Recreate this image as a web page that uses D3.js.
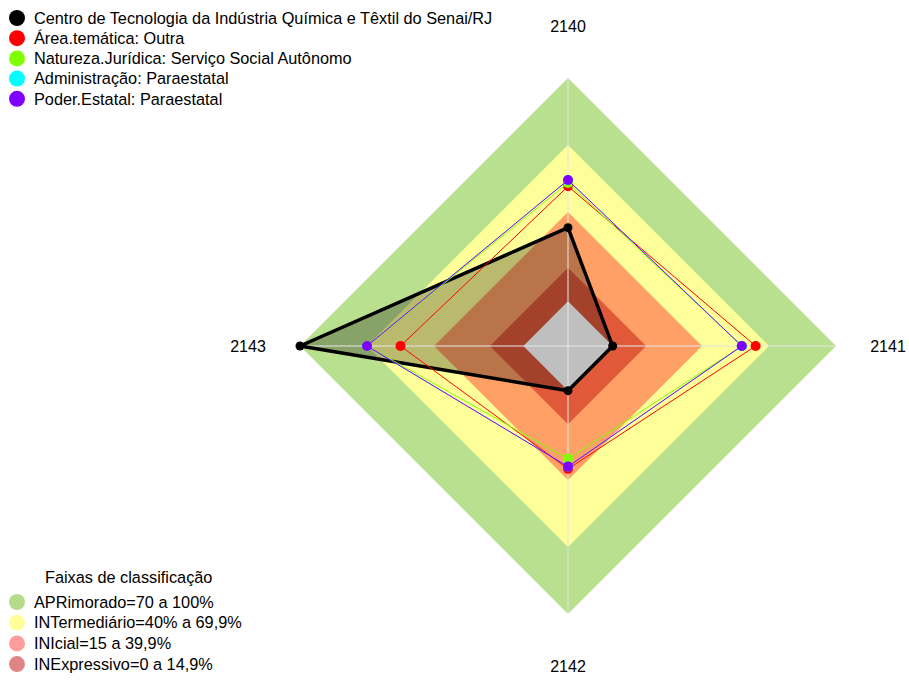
<!DOCTYPE html>
<html>
<head>
<meta charset="utf-8">
<script src="https://cdn.jsdelivr.net/npm/d3@7"></script>
<style>
  body { margin: 0; background: #fff; }
  svg { font-family: "Liberation Sans", Arial, sans-serif; }
</style>
</head>
<body>
<svg class="radar" width="909" height="680"></svg>
<script>
var axesLabels = ["2140", "2141", "2142", "2143"];

var seriesNames = [
  "Centro de Tecnologia da Indústria Química e Têxtil do Senai/RJ",
  "Área.temática: Outra",
  "Natureza.Jurídica: Serviço Social Autônomo",
  "Administração: Paraestatal",
  "Poder.Estatal: Paraestatal"
];
var seriesColors = ["#000000", "#ff0000", "#80ff00", "#00ffff", "#8000ff"];

var centroValues = [33, 0, 0, 100];
var areaValues = [51.5, 64, 35, 55];
var naturezaValues = [53, 58, 30.5, 70];
var adminValues = [54.3, 57.8, 34, 70];
var poderValues = [54.3, 57.8, 34, 70];
var allValues = [centroValues, areaValues, naturezaValues, adminValues, poderValues];

var bandNames = ["APRimorado=70 a 100%", "INTermediário=40% a 69,9%", "INIcial=15 a 39,9%", "INExpressivo=0 a 14,9%"];
var bandLimits = [100, 70, 40, 15];
var bandFills = ["#b9e08f", "#ffff99", "#ffa066", "#e05a3a"];
var bandLegendFills = ["#b5dc8a", "#ffff99", "#ff9d9d", "#e08585"];
var centerFill = "#bfbfbf";

var svg = d3.select("svg.radar"),
    cx = 568, cy = 346, radius = 268;

var r = d3.scaleLinear().domain([-20, 100]).range([0, radius]);
var angle = d3.scalePoint().domain(d3.range(axesLabels.length)).range([0, 2 * Math.PI * (axesLabels.length - 1) / axesLabels.length]);

function pt(i, v) {
  var a = angle(i) - Math.PI / 2;
  return [cx + r(v) * Math.cos(a), cy + r(v) * Math.sin(a)];
}
function ring(v) {
  return lineRadial(axesLabels.map(function(_, i) { return pt(i, v); }));
}

var lineRadial = d3.line().curve(d3.curveLinearClosed);

// background bands
var g = svg.append("g");
g.selectAll(".band")
  .data(bandLimits)
  .enter().append("path")
    .attr("class", "band")
    .attr("d", ring)
    .attr("fill", function(v, i) { return bandFills[i]; });

// fill of the main series, under the grey centre
allValues.forEach(function(vals, s) {
  if (s !== 0) return;
  svg.append("path")
    .attr("d", lineRadial(vals.map(function(v, i) { return pt(i, v); })))
    .attr("fill", "rgba(0,0,0,0.27)");
});

svg.append("path").attr("d", ring(0)).attr("fill", centerFill);

// axis spokes
svg.selectAll(".spoke")
  .data(axesLabels)
  .enter().append("line")
    .attr("class", "spoke")
    .attr("x1", cx).attr("y1", cy)
    .attr("x2", function(d, i) { return pt(i, 100)[0]; })
    .attr("y2", function(d, i) { return pt(i, 100)[1]; })
    .attr("stroke", "#e4e4e4")
    .attr("stroke-opacity", 0.7)
    .attr("stroke-width", 1.5);

// axis labels
svg.selectAll(".axlabel")
  .data(axesLabels)
  .enter().append("text")
    .attr("class", "axlabel")
    .attr("x", function(d, i) { return cx + 320 * Math.cos(angle(i) - Math.PI / 2); })
    .attr("y", function(d, i) { return cy + 320 * Math.sin(angle(i) - Math.PI / 2); })
    .attr("dy", "0.35em")
    .attr("text-anchor", "middle")
    .style("font-size", "16px")
    .attr("fill", "#000")
    .text(function(d) { return d; });

// series
allValues.forEach(function(vals, s) {
  var pts = vals.map(function(v, i) { return pt(i, v); });
  var sg = svg.append("g").attr("class", "series");
  sg.append("path")
    .attr("d", lineRadial(pts))
    .attr("fill", "none")
    .attr("stroke", seriesColors[s])
    .attr("stroke-width", s === 0 ? 3.5 : (s === 3 ? 0.6 : 1))
    .attr("stroke-linejoin", "round");
  sg.selectAll("circle")
    .data(pts)
    .enter().append("circle")
      .attr("cx", function(d) { return d[0]; })
      .attr("cy", function(d) { return d[1]; })
      .attr("r", s === 0 ? 4.5 : 5)
      .attr("fill", seriesColors[s]);
});

// top legend
var leg = svg.append("g").attr("class", "legend");
var li = leg.selectAll("g")
  .data(seriesNames)
  .enter().append("g")
    .attr("transform", function(d, i) { return "translate(17," + (18 + i * 20.2) + ")"; });
li.append("circle").attr("r", 8).attr("fill", function(d, i) { return seriesColors[i]; });
li.append("text")
  .attr("x", 17).attr("dy", "0.35em")
  .style("font-size", "16.3px")
  .text(function(d) { return d; });

// bands legend
var bl = svg.append("g").attr("class", "bandlegend");
bl.append("text")
  .attr("x", 45).attr("y", 577).attr("dy", "0.35em")
  .style("font-size", "16.3px")
  .text("Faixas de classificação");
var bi = bl.selectAll("g")
  .data(bandNames)
  .enter().append("g")
    .attr("transform", function(d, i) { return "translate(17," + (602 + i * 20.7) + ")"; });
bi.append("circle").attr("r", 8).attr("fill", function(d, i) { return bandLegendFills[i]; });
bi.append("text")
  .attr("x", 17).attr("dy", "0.35em")
  .style("font-size", "16.3px")
  .text(function(d) { return d; });
</script>
</body>
</html>
